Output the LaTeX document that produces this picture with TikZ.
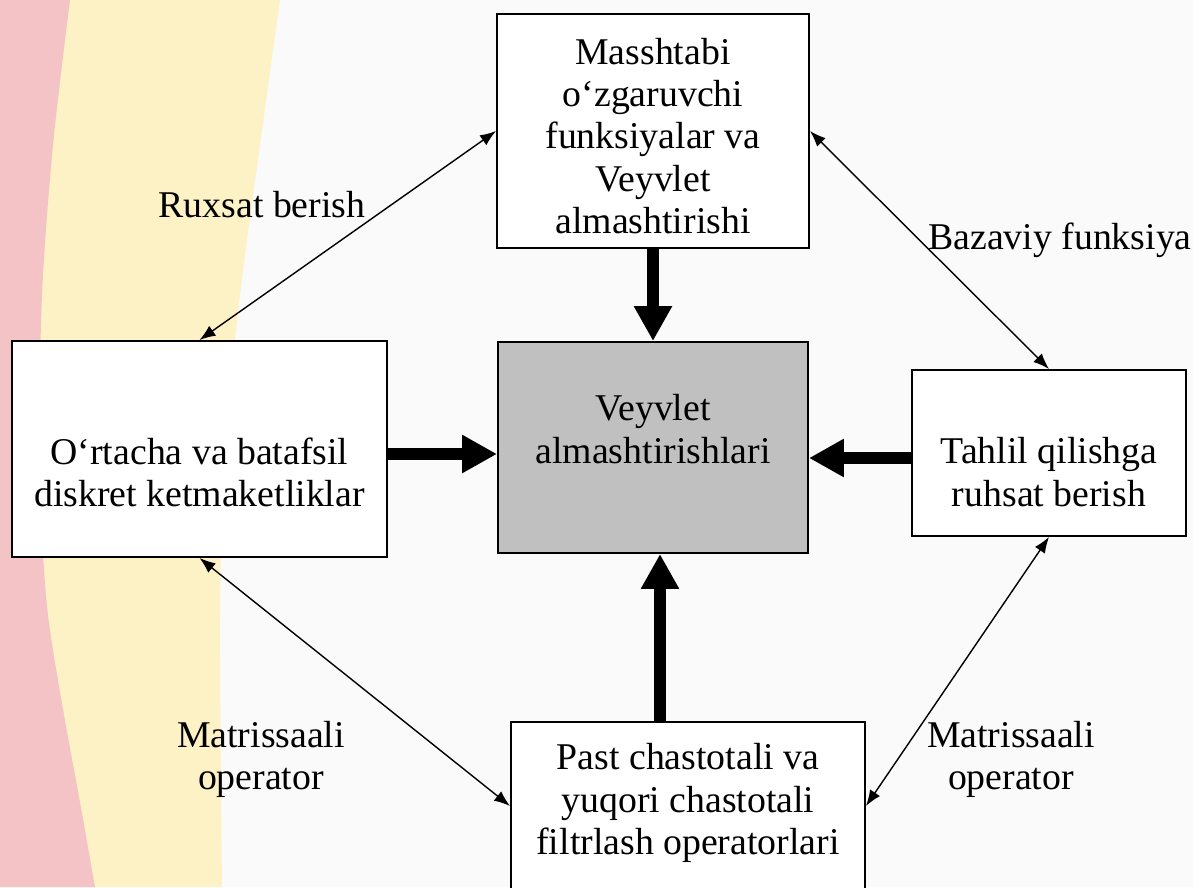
\documentclass[tikz,border=0pt]{standalone}
\usepackage{fontspec}
\setmainfont{Liberation Serif}
\usetikzlibrary{arrows.meta}

\definecolor{bgpink}{HTML}{F4C3C6}
\definecolor{bgyellow}{HTML}{FDF1C6}
\definecolor{bgwhite}{HTML}{FAFAFA}
\definecolor{boxgrey}{HTML}{C0C0C0}

\tikzset{
  box/.style={draw, line width=1.1pt, fill=white, inner sep=0pt},
  txt/.style={align=center, font=\fontsize{21.5}{24}\selectfont},
  dblarrow/.style={line width=0.8pt, {Latex[length=3.2mm,width=2.4mm]}-{Latex[length=3.2mm,width=2.4mm]}},
  fatarrow/.style={line width=0.24cm, -{Triangle[length=0.7cm,width=0.72cm]}}
}

\begin{document}
\begin{tikzpicture}
        \useasboundingbox (0,0) rectangle (23.86,-17.74);
        \clip (0,0) rectangle (23.86,-17.74);

        % background bands
        \fill [bgwhite] (0,0) rectangle (23.86,-17.74);
        \fill [bgyellow] (0,0) -- plot [smooth] coordinates {(5.6,0) (5.2,-2.9) (4.8,-5.9) (4.5,-9) (4.4,-12.3) (4.44,-17.74)} -- (0,-17.74) -- cycle;
        \fill [bgpink] (0,0) -- plot [smooth] coordinates {(1.4,0) (1.06,-2.9) (0.84,-5.9) (0.8,-9) (0.96,-12.3) (1.7,-16.6) (1.9,-17.74)} -- (0,-17.74) -- cycle;

        \node[box, minimum width=6.24cm, minimum height=4.68cm] (top) at (13.06,-2.62) {};
        \node[txt] (top-t) at (13.06,-2.72) {Masshtabi\\o‘zgaruvchi\\funksiyalar va\\Veyvlet\\almashtirishi};

        \node[box, minimum width=7.5cm, minimum height=4.32cm] (left) at (3.99,-8.98) {};
        \node[txt] (left-t) at (3.99,-9.44) {O‘rtacha va batafsil\\diskret ketmaketliklar};

        \node[box, fill=boxgrey, minimum width=6.2cm, minimum height=4.22cm] (mid) at (13.06,-8.95) {};
        \node[txt] (mid-t) at (13.06,-8.58) {Veyvlet\\almashtirishlari};

        \node[box, minimum width=5.48cm, minimum height=3.32cm] (right) at (20.98,-9.06) {};
        \node[txt] (right-t) at (20.98,-9.44) {Tahlil qilishga\\ruhsat berish};

        \node[box, minimum width=7.08cm, minimum height=3.36cm] (bottom) at (13.76,-16.12) {};
        \node[txt] (bottom-t) at (13.76,-16.06) {Past chastotali va\\yuqori chastotali\\filtrlash operatorlari};

        \draw [fatarrow] (top.south) -- (mid.north);
        \draw [fatarrow] ([yshift=-0.1cm]left.east) -- ([yshift=-0.1cm]left.east -| mid.west);
        \draw [fatarrow] ([yshift=-0.1cm]right.west) -- ([yshift=-0.1cm]right.west -| mid.east);
        \draw [fatarrow] (bottom.north -| 13.2,0) -- (mid.south -| 13.2,0);

        \draw [dblarrow] (top.west) -- (left.north);
        \draw [dblarrow] (top.east) -- (right.north);
        \draw [dblarrow] (left.south) -- (bottom.west);
        \draw [dblarrow] (right.south) -- (bottom.east);

        \node[txt] (lab-ruxsat) at (5.24,-4.1) {Ruxsat berish};
        \node[txt] (lab-bazaviy) at (21.2,-4.8) {Bazaviy funksiya};
        \node[txt] (lab-matl) at (5.22,-15.19) {Matrissaali\\operator};
        \node[txt] (lab-matr) at (20.22,-15.19) {Matrissaali\\operator};
    \end{tikzpicture}
\end{document}
